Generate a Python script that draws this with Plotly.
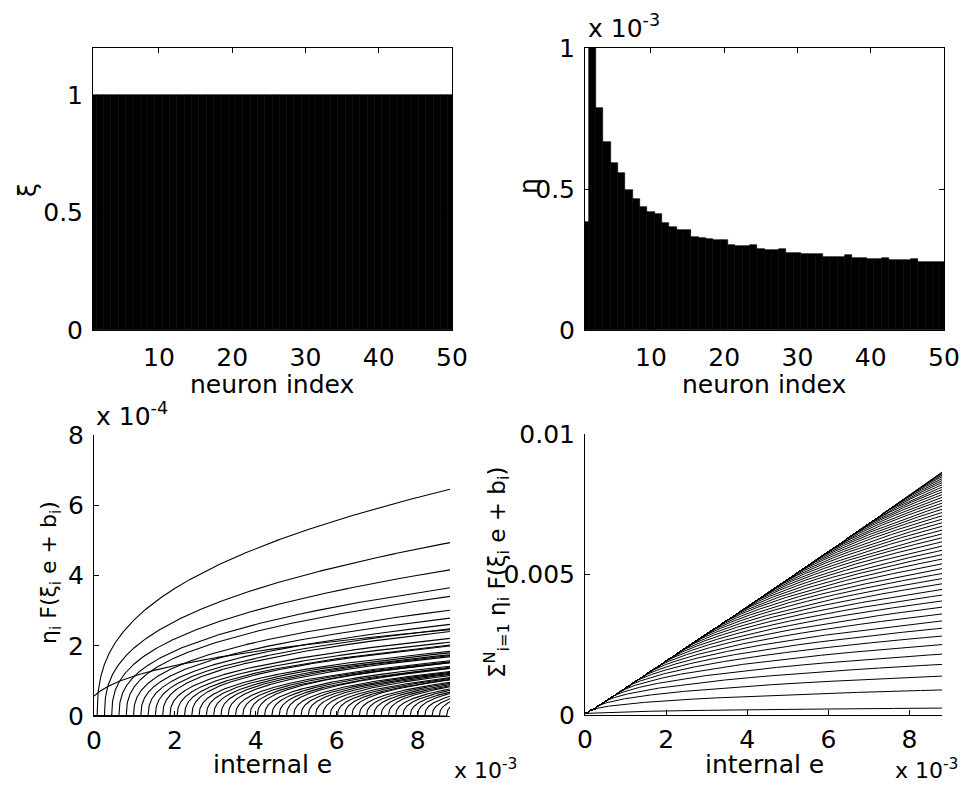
import numpy as np
import plotly.graph_objects as go

# ---- neuron population parameters ----
neuron_index = list(range(1, 51))

# encoder gains xi_i (all neurons share the same gain)
xi = [1.0] * 50

# decoding weights eta_i, in units of 1e-3
eta_e3 = [0.384, 1.020, 0.786, 0.668, 0.591, 0.556, 0.496, 0.463, 0.437, 0.420,
          0.411, 0.381, 0.366, 0.355, 0.355, 0.331, 0.327, 0.321, 0.320, 0.318,
          0.300, 0.298, 0.297, 0.302, 0.286, 0.284, 0.283, 0.286, 0.273, 0.272,
          0.271, 0.270, 0.268, 0.260, 0.260, 0.259, 0.266, 0.254, 0.254, 0.253,
          0.253, 0.256, 0.248, 0.248, 0.247, 0.251, 0.242, 0.242, 0.242, 0.241]

# biases b_i, in units of 1e-3 (neuron i switches on where xi_i*e + b_i > 0)
bias_e3 = [0.19, -0.08, -0.26, -0.44, -0.62, -0.80, -0.98, -1.16, -1.34, -1.52,
           -1.70, -1.88, -2.06, -2.24, -2.42, -2.60, -2.78, -2.96, -3.14, -3.32,
           -3.50, -3.68, -3.86, -4.04, -4.22, -4.40, -4.58, -4.76, -4.94, -5.12,
           -5.30, -5.48, -5.66, -5.84, -6.02, -6.20, -6.38, -6.56, -6.74, -6.92,
           -7.10, -7.28, -7.46, -7.64, -7.82, -8.00, -8.18, -8.36, -8.54, -8.72]

# rate function F(x) = gain * (x / 1e-3)^power for x > 0
F_GAIN = 0.278
F_POWER = 0.38
E_MAX = 8.8e-3

# ---- tick labels ----
xi_ticks = [0, 0.5, 1]
xi_ticktext = ["0", "0.5", "1"]
idx_ticks = [10, 20, 30, 40, 50]
eta_ticks = [0, 0.5, 1]
eta_ticktext = ["0", "0.5", "1"]
e_ticks = [0, 2e-3, 4e-3, 6e-3, 8e-3]
e_ticktext = ["0", "2", "4", "6", "8"]
resp_ticks = [0, 2e-4, 4e-4, 6e-4, 8e-4]
resp_ticktext = ["0", "2", "4", "6", "8"]
sum_ticks = [0, 0.005, 0.01]
sum_ticktext = ["0", "0.005", "0.01"]


def rate(x):
    x = np.asarray(x, dtype=float)
    out = np.zeros_like(x)
    pos = x > 0
    out[pos] = F_GAIN * (x[pos] / 1e-3) ** F_POWER
    return out


eta = np.array(eta_e3) * 1e-3
bias = np.array(bias_e3) * 1e-3
gain = np.array(xi)

# evaluation grid for e, refined right after each switch-on point
onsets = -bias / gain
onsets = onsets[(onsets > 0) & (onsets < E_MAX)]
extra = np.concatenate([onsets + d for d in (0.0, 2e-7, 1e-6, 3e-6)])
e_grid = np.unique(np.concatenate([np.linspace(0, E_MAX, 1500), extra]))
e_grid = e_grid[(e_grid >= 0) & (e_grid <= E_MAX)]

responses = [eta[i] * rate(gain[i] * e_grid + bias[i]) for i in range(50)]
partial_sums = np.cumsum(np.array(responses), axis=0)

W, H = 966, 803


def px_x(p):
    return p / W


def px_y(p):
    return 1 - p / H


fig = go.Figure()

FONT = "DejaVu Sans"
FS = 25

# top-left: xi per neuron
fig.add_trace(go.Bar(x=neuron_index, y=xi, width=1.0,
                     marker=dict(color="black", line=dict(color="black", width=0.6)),
                     xaxis="x", yaxis="y", showlegend=False))
# top-right: eta per neuron
fig.add_trace(go.Bar(x=neuron_index, y=eta_e3, width=1.0,
                     marker=dict(color="black", line=dict(color="black", width=0.6)),
                     xaxis="x2", yaxis="y2", showlegend=False))
# bottom-left: individual neuron contributions
for r in responses:
    fig.add_trace(go.Scatter(x=e_grid, y=r, mode="lines",
                             line=dict(color="black", width=1.1),
                             xaxis="x3", yaxis="y3", showlegend=False,
                             hoverinfo="skip"))
# bottom-right: cumulative population output for N = 1..50
for s in partial_sums:
    fig.add_trace(go.Scatter(x=e_grid, y=s, mode="lines",
                             line=dict(color="black", width=1.0),
                             xaxis="x4", yaxis="y4", showlegend=False,
                             hoverinfo="skip"))

tick_font = dict(family=FONT, size=FS, color="black")
common = dict(showline=True, linecolor="black", linewidth=1,
              ticks="inside", ticklen=5, tickcolor="black", tickwidth=1,
              showgrid=False, zeroline=False, tickfont=tick_font, automargin=False)
box_axis = dict(common, mirror="ticks")
open_axis = dict(common, mirror=False)

fig.update_layout(
    template="none",
    width=W, height=H,
    margin=dict(l=0, r=0, t=0, b=0, pad=0),
    paper_bgcolor="white", plot_bgcolor="white",
    font=dict(family=FONT, size=FS, color="black"),
    bargap=0,
    xaxis=dict(box_axis, domain=[px_x(93), px_x(452)], range=[1, 50],
               tickvals=idx_ticks, anchor="y", ticklabelstandoff=5),
    yaxis=dict(box_axis, domain=[px_y(330), px_y(48)], range=[0, 1.2],
               tickvals=xi_ticks, ticktext=xi_ticktext, anchor="x",
               ticklabelstandoff=4),
    xaxis2=dict(box_axis, domain=[px_x(585), px_x(944)], range=[1, 50],
                tickvals=idx_ticks, anchor="y2", ticklabelstandoff=5),
    yaxis2=dict(box_axis, domain=[px_y(330), px_y(48)], range=[0, 1],
                tickvals=eta_ticks, ticktext=eta_ticktext, anchor="x2",
                ticklabelstandoff=4),
    xaxis3=dict(open_axis, domain=[px_x(94), px_x(450)], range=[0, E_MAX],
                tickvals=e_ticks, ticktext=e_ticktext, anchor="y3",
                ticklabelstandoff=2),
    yaxis3=dict(open_axis, domain=[px_y(716), px_y(435)], range=[0, 8e-4],
                tickvals=resp_ticks, ticktext=resp_ticktext, anchor="x3",
                ticklabelstandoff=4),
    xaxis4=dict(open_axis, domain=[px_x(585), px_x(942)], range=[0, E_MAX],
                tickvals=e_ticks, ticktext=e_ticktext, anchor="y4",
                ticklabelstandoff=2),
    yaxis4=dict(open_axis, domain=[px_y(715), px_y(434)], range=[0, 0.01],
                tickvals=sum_ticks, ticktext=sum_ticktext, anchor="x4",
                ticklabelstandoff=4),
)


def label(text, x, y, angle=0, xanchor="center", yanchor="middle", size=FS):
    fig.add_annotation(text=text, x=px_x(x), y=px_y(y), xref="paper", yref="paper",
                       showarrow=False, textangle=angle, xanchor=xanchor,
                       yanchor=yanchor, font=dict(family=FONT, size=size, color="black"))


# axis titles
label("ξ", 27, 190, angle=-90)
label("neuron index", 272, 384)
label("η", 528, 186, angle=-90)
label("neuron index", 764, 384)
label("η<sub>i</sub> F(ξ<sub>i</sub> e + b<sub>i</sub>)", 50, 573, angle=-90, size=22)
label("internal e", 272, 764)
label("Σ<sup>N</sup><sub>i=1</sub> η<sub>i</sub> F(ξ<sub>i</sub> e + b<sub>i</sub>)", 496, 573,
      angle=-90, size=23)
label("internal e", 764, 764)

# axis exponent labels
label("x 10<sup>-3</sup>", 586, 45, xanchor="left", yanchor="bottom")
label("x 10<sup>-4</sup>", 94, 433, xanchor="left", yanchor="bottom")
label("x 10<sup>-3</sup>", 452, 785, xanchor="left", yanchor="bottom", size=22)
label("x 10<sup>-3</sup>", 960, 785, xanchor="right", yanchor="bottom", size=22)

fig.write_html("out.html")
